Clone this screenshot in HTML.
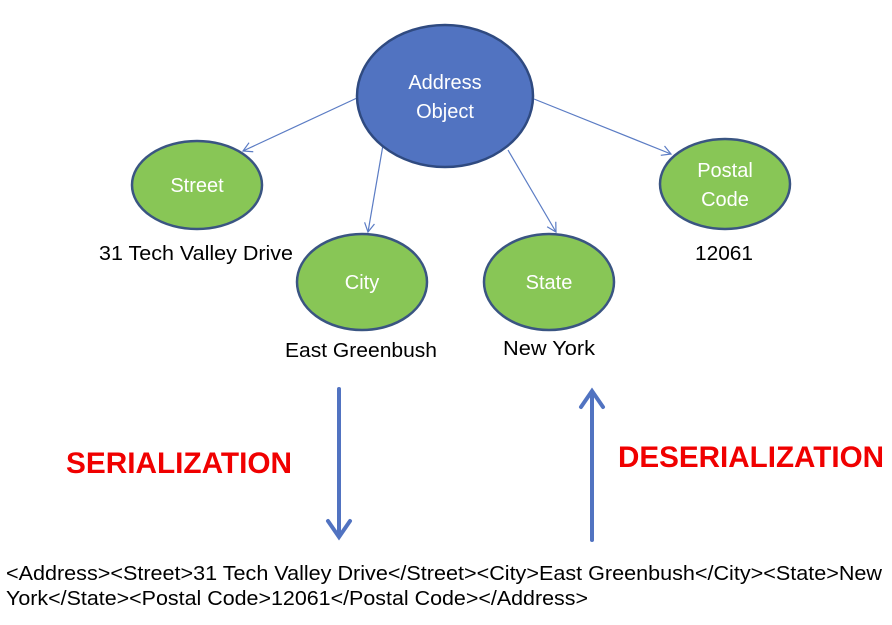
<!DOCTYPE html>
<html><head><meta charset="utf-8"><style>
body{margin:0;background:#fff;}
svg{display:block;font-family:"Liberation Sans",Calibri,sans-serif;}
</style></head><body>
<svg width="892" height="625" viewBox="0 0 892 625" xmlns="http://www.w3.org/2000/svg">
<defs>
<marker id="a" markerWidth="12" markerHeight="12" refX="10" refY="6" orient="auto" markerUnits="userSpaceOnUse">
<path d="M1,1 L10,6 L1,11" fill="none" stroke="#5b7cc4" stroke-width="1.2"/></marker>
</defs>
<g stroke="#5b7cc4" stroke-width="1.2" fill="none">
<line x1="357" y1="98" x2="243" y2="151" marker-end="url(#a)"/>
<line x1="383" y1="145" x2="368" y2="232" marker-end="url(#a)"/>
<line x1="508" y1="150" x2="556" y2="232" marker-end="url(#a)"/>
<line x1="534" y1="99" x2="671" y2="154" marker-end="url(#a)"/>
</g>
<ellipse cx="445" cy="96" rx="88" ry="71" fill="#5173c1" stroke="#2f4a80" stroke-width="2.5"/>
<g fill="#88c656" stroke="#3a5582" stroke-width="2.5">
<ellipse cx="197" cy="185" rx="65" ry="44"/>
<ellipse cx="362" cy="282" rx="65" ry="48"/>
<ellipse cx="549" cy="282" rx="65" ry="48"/>
<ellipse cx="725" cy="184" rx="65" ry="45"/>
</g>
<g fill="#fff" font-size="20" text-anchor="middle">
<text x="445" y="89">Address</text><text x="445" y="118">Object</text>
<text x="197" y="192">Street</text>
<text x="362" y="289">City</text>
<text x="549" y="289">State</text>
<text x="725" y="177">Postal</text><text x="725" y="206">Code</text>
</g>
<g fill="#000" font-size="20">
<text x="99" y="260" textLength="194" lengthAdjust="spacingAndGlyphs">31 Tech Valley Drive</text>
<text x="285" y="357" textLength="152" lengthAdjust="spacingAndGlyphs">East Greenbush</text>
<text x="503" y="355" textLength="92" lengthAdjust="spacingAndGlyphs">New York</text>
<text x="695" y="260" textLength="58" lengthAdjust="spacingAndGlyphs">12061</text>
</g>
<g stroke="#5173c1" stroke-width="4" fill="none" stroke-linecap="round">
<line x1="339" y1="389" x2="339" y2="536"/>
<path d="M328,521 L339,537 L350,521"/>
<line x1="592" y1="392" x2="592" y2="540"/>
<path d="M581,407 L592,391 L603,407"/>
</g>
<g fill="#f00000" font-size="30" font-weight="bold">
<text x="66" y="473" textLength="226" lengthAdjust="spacingAndGlyphs">SERIALIZATION</text>
<text x="618" y="467" textLength="266" lengthAdjust="spacingAndGlyphs">DESERIALIZATION</text>
</g>
<g fill="#000" font-size="20">
<text x="6" y="580" textLength="876" lengthAdjust="spacingAndGlyphs">&lt;Address&gt;&lt;Street&gt;31 Tech Valley Drive&lt;/Street&gt;&lt;City&gt;East Greenbush&lt;/City&gt;&lt;State&gt;New</text>
<text x="6" y="605" textLength="582" lengthAdjust="spacingAndGlyphs">York&lt;/State&gt;&lt;Postal Code&gt;12061&lt;/Postal Code&gt;&lt;/Address&gt;</text>
</g>
</svg>
</body></html>
